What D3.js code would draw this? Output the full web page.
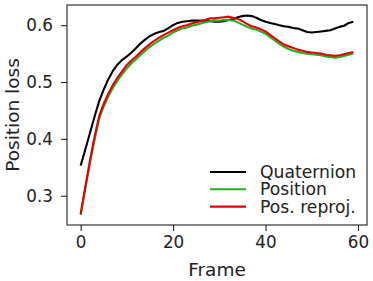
<!DOCTYPE html>
<html lang="en">
  <head>
    <meta charset="utf-8">
    <title>Position loss</title>
    <script src="https://d3js.org/d3.v7.min.js"></script>
    <style>
      body { margin: 0; background: #fff; }
      svg { display: block; font-family: "DejaVu Sans", sans-serif; }
    </style>
  </head>
  <body>
    <div id="main"></div>
    <script type="text/javascript">
      // Data
      const frames = d3.range(0, 60);
      const quaternion = [
        0.353, 0.381, 0.410, 0.439, 0.466, 0.487, 0.505, 0.520, 0.531, 0.539,
        0.545, 0.552, 0.560, 0.568, 0.575, 0.581, 0.585, 0.588, 0.590, 0.595,
        0.600, 0.604, 0.606, 0.607, 0.608, 0.608, 0.608, 0.608, 0.607, 0.606,
        0.606, 0.607, 0.609, 0.611, 0.614, 0.616, 0.617, 0.616, 0.613, 0.609,
        0.606, 0.604, 0.602, 0.600, 0.598, 0.597, 0.595, 0.594, 0.591, 0.588,
        0.587, 0.588, 0.589, 0.590, 0.591, 0.594, 0.597, 0.599, 0.604, 0.606
      ];
      const position = [
        0.266, 0.312, 0.357, 0.398, 0.435, 0.457, 0.475, 0.490, 0.503, 0.514,
        0.524, 0.533, 0.540, 0.548, 0.555, 0.562, 0.568, 0.573, 0.578, 0.582,
        0.587, 0.591, 0.594, 0.596, 0.599, 0.601, 0.603, 0.605, 0.607, 0.608,
        0.608, 0.609, 0.609, 0.608, 0.605, 0.601, 0.597, 0.594, 0.592, 0.589,
        0.585, 0.579, 0.573, 0.567, 0.562, 0.558, 0.555, 0.553, 0.551, 0.550,
        0.549, 0.548, 0.547, 0.545, 0.544, 0.543, 0.544, 0.546, 0.548, 0.550
      ];
      const posReproj = [
        0.268, 0.315, 0.361, 0.403, 0.440, 0.462, 0.480, 0.495, 0.508, 0.519,
        0.530, 0.538, 0.545, 0.553, 0.560, 0.567, 0.573, 0.578, 0.583, 0.587,
        0.591, 0.595, 0.598, 0.600, 0.603, 0.605, 0.607, 0.609, 0.612, 0.612,
        0.613, 0.614, 0.615, 0.613, 0.611, 0.607, 0.602, 0.598, 0.596, 0.593,
        0.589, 0.583, 0.577, 0.571, 0.566, 0.563, 0.560, 0.557, 0.555, 0.553,
        0.552, 0.551, 0.550, 0.548, 0.547, 0.546, 0.547, 0.549, 0.551, 0.553
      ];
      const seriesNames = ['Quaternion', 'Position', 'Pos. reproj.'];
      const seriesColors = ['#000000', '#22b022', '#e60000'];
      const xTicks = [0, 20, 40, 60];
      const yTicks = [0.3, 0.4, 0.5, 0.6];

      // Layout
      const width = 373, height = 281;
      const margin = {top: 5, right: 6, bottom: 56, left: 67};
      const inkColor = '#222222';

      const svg = d3.select('#main')
        .append('svg')
        .attr('width', width)
        .attr('height', height);

      const x = d3.scaleLinear()
        .domain([-2.95, 61.95])
        .range([margin.left, width - margin.right]);

      const y = d3.scaleLinear()
        .domain([0.2485, 0.6355])
        .range([height - margin.bottom, margin.top]);

      // Lines
      const allSeries = [quaternion, position, posReproj];
      const line = d3.line()
        .x((d, i) => x(frames[i]))
        .y(d => y(d));

      svg.append('g')
        .selectAll('path')
        .data(allSeries)
        .enter()
          .append('path')
          .attr('d', line)
          .attr('fill', 'none')
          .attr('stroke', (d, i) => seriesColors[i])
          .attr('stroke-width', 2.1)
          .attr('stroke-linejoin', 'round');

      // Axes
      const xAxis = svg.append('g')
        .attr('transform', `translate(0,${height - margin.bottom})`)
        .call(d3.axisBottom(x).tickValues(xTicks).tickFormat(d3.format('d'))
          .tickSizeOuter(0).tickSize(6).tickPadding(5));

      const yAxis = svg.append('g')
        .attr('transform', `translate(${margin.left},0)`)
        .call(d3.axisLeft(y).tickValues(yTicks).tickFormat(d3.format('.1f'))
          .tickSizeOuter(0).tickSize(6).tickPadding(8));

      [xAxis, yAxis].forEach(a => {
        a.select('.domain').remove();
        a.selectAll('line').attr('stroke', inkColor).attr('stroke-width', 1.1);
        a.selectAll('text')
          .attr('fill', inkColor)
          .style('font-size', '16.8px')
          .style('font-family', '"DejaVu Sans", sans-serif');
      });

      // Frame
      svg.append('rect')
        .attr('x', margin.left)
        .attr('y', margin.top)
        .attr('width', width - margin.left - margin.right)
        .attr('height', height - margin.top - margin.bottom)
        .attr('fill', 'none')
        .attr('stroke', inkColor)
        .attr('stroke-width', 1.1);

      // Axis labels
      svg.append('text')
        .attr('x', (margin.left + width - margin.right) / 2)
        .attr('y', 276)
        .attr('text-anchor', 'middle')
        .attr('fill', inkColor)
        .style('font-size', '18.5px')
        .text('Frame');

      svg.append('text')
        .attr('transform', `translate(19,${(margin.top + height - margin.bottom) / 2}) rotate(-90)`)
        .attr('text-anchor', 'middle')
        .attr('fill', inkColor)
        .style('font-size', '18.5px')
        .text('Position loss');

      // Legend
      const legend = svg.append('g')
        .selectAll('g')
        .data(seriesNames)
        .enter()
          .append('g')
          .attr('transform', (d, i) => `translate(210,${172 + i * 17.3})`);

      legend.append('line')
        .attr('x1', 0)
        .attr('x2', 36)
        .attr('stroke', (d, i) => seriesColors[i])
        .attr('stroke-width', 2.1);

      legend.append('text')
        .attr('x', 50)
        .attr('dy', '0.35em')
        .attr('fill', inkColor)
        .style('font-size', '17.2px')
        .text(d => d);
    </script>
  </body>
</html>
